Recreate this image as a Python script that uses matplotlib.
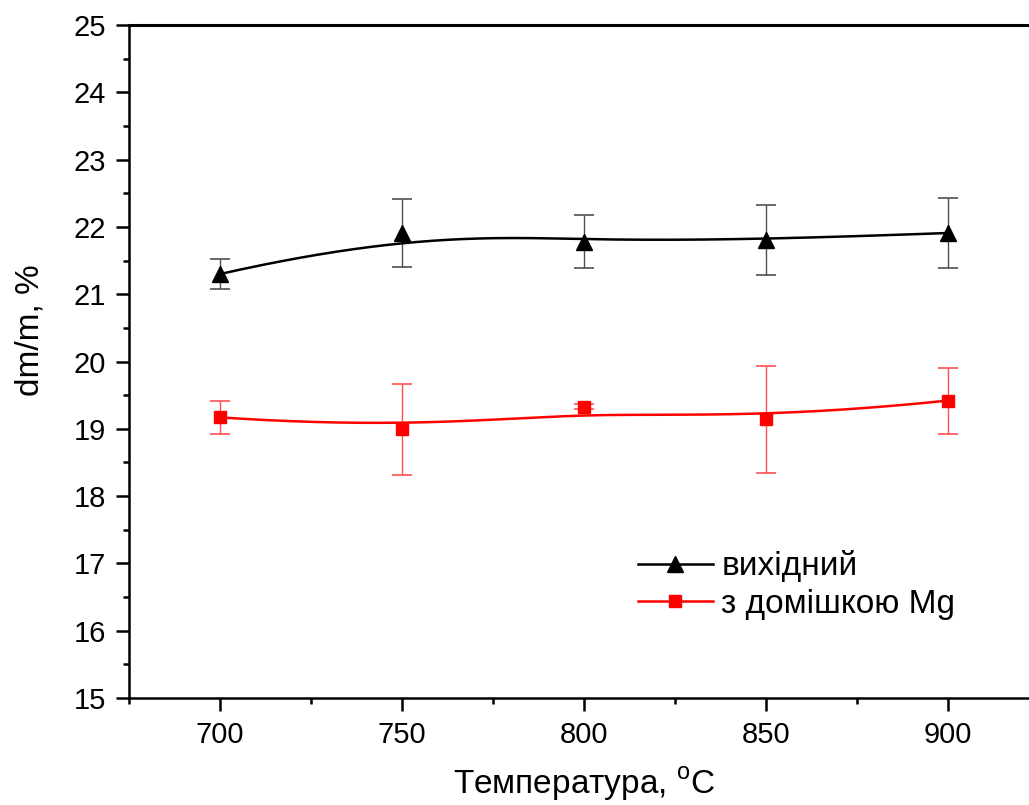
import numpy as np
import matplotlib
matplotlib.use("Agg")
import matplotlib.pyplot as plt
from matplotlib.ticker import MultipleLocator

plt.rcParams["font.family"] = ["Liberation Sans", "DejaVu Sans"]
plt.rcParams["mathtext.fontset"] = "custom"
plt.rcParams["mathtext.rm"] = "Liberation Sans"

temps = [700, 750, 800, 850, 900]

base_vals = [21.30, 21.91, 21.78, 21.81, 21.91]
base_err = [0.22, 0.50, 0.39, 0.52, 0.52]

mg_vals = [19.17, 18.99, 19.33, 19.14, 19.42]
mg_err = [0.24, 0.67, 0.04, 0.79, 0.49]

labels = ["вихідний", "з домішкою Mg"]


def bspline(xs, ys, n=300, k=3):
    # clamped B-spline with the data points as control points
    xs = np.asarray(xs, float)
    ys = np.asarray(ys, float)
    m = len(xs)
    inner = np.linspace(0, 1, m - k + 1)[1:-1]
    knots = np.concatenate([np.zeros(k + 1), inner, np.ones(k + 1)])
    t = np.linspace(0, 1, n)
    t[-1] -= 1e-9

    def basis(i, p, u):
        if p == 0:
            return ((knots[i] <= u) & (u < knots[i + 1])).astype(float)
        a = np.zeros_like(u)
        b = np.zeros_like(u)
        d1 = knots[i + p] - knots[i]
        d2 = knots[i + p + 1] - knots[i + 1]
        if d1 > 0:
            a = (u - knots[i]) / d1 * basis(i, p - 1, u)
        if d2 > 0:
            b = (knots[i + p + 1] - u) / d2 * basis(i + 1, p - 1, u)
        return a + b

    B = np.array([basis(i, k, t) for i in range(m)])
    return B.T @ xs, B.T @ ys


fig = plt.figure(figsize=(10.29, 8.05), dpi=100)
ax = fig.add_axes([0.1254, 0.1329, 0.8843, 0.836])

series = [
    (base_vals, base_err, "black", "#505050", "^", 12),
    (mg_vals, mg_err, "#ff0000", "#ff5050", "s", 9),
]
handles = []
for (vals, err, col, ecol, mk, ms), lab in zip(series, labels):
    ax.errorbar(temps, vals, yerr=err, fmt="none", ecolor=ecol,
                elinewidth=1.0, capsize=7, capthick=1.2, zorder=2)
    sx, sy = bspline(temps, vals)
    ax.plot(sx, sy, color=col, lw=1.8, zorder=3)
    ax.plot(temps, vals, ls="none", marker=mk, ms=ms, color=col, zorder=4)
    h, = ax.plot([], [], color=col, lw=1.8, marker=mk, ms=ms)
    handles.append(h)

ax.set_xlim(675, 925)
ax.set_ylim(15, 25)
ax.xaxis.set_major_locator(MultipleLocator(50))
ax.xaxis.set_minor_locator(MultipleLocator(25))
ax.yaxis.set_major_locator(MultipleLocator(1))
ax.yaxis.set_minor_locator(MultipleLocator(0.5))

for s in ax.spines.values():
    s.set_linewidth(1.8)
    s.set_zorder(5)
    s.set_visible(True)
# frame line along the top edge
ax.plot([0, 1], [1, 1], transform=ax.transAxes, color="black", lw=2.2,
        clip_on=False, zorder=6, solid_capstyle="butt")

ax.tick_params(which="major", direction="out", length=9.4, width=1.8,
               labelsize=21, pad=7, top=False, right=False)
ax.tick_params(which="minor", direction="out", length=4.5, width=1.8,
               top=False, right=False)

ax.set_xlabel("Температура, $^\\mathregular{o}$C", fontsize=24, labelpad=12)
ax.set_ylabel("dm/m, %", fontsize=24)
ax.yaxis.set_label_coords(-0.0923, 0.547)

ax.legend(handles, labels, loc="center left",
          bbox_to_anchor=(0.62, 0.273), bbox_transform=fig.transFigure,
          frameon=False, fontsize=24, handlelength=2.25,
          handletextpad=0.25, labelspacing=0.2, borderpad=0,
          borderaxespad=0)

fig.savefig("out.png", dpi=100)
